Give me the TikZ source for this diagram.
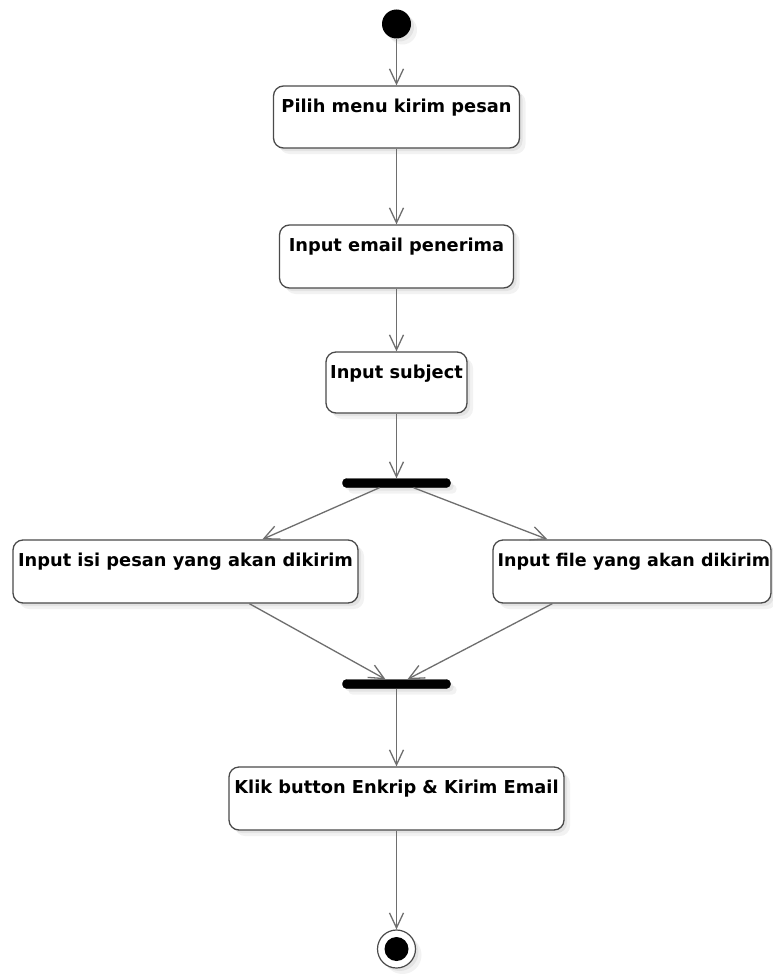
\documentclass[tikz,border=0pt]{standalone}
\usepackage{fontspec}
\setmainfont{DejaVu Sans}
\usetikzlibrary{arrows.meta,shadows,calc}
\definecolor{edgegray}{HTML}{6E6E6E}
\definecolor{boxgray}{HTML}{4A4A4A}
\tikzset{
  softshadow/.style={
    drop shadow={shadow xshift=3pt,shadow yshift=-3pt,fill=black,opacity=.06},
    drop shadow={shadow xshift=6pt,shadow yshift=-6pt,fill=black,opacity=.05}},
  actbox/.style={draw=boxgray,line width=1.3pt,rounded corners=10pt,fill=white,
    inner sep=0pt,softshadow},
  acttext/.style={font=\bfseries\fontsize{17.8}{20}\selectfont,inner sep=0pt,anchor=base},
  bar/.style={fill=black,draw=black,rounded corners=4pt,inner sep=0pt,minimum height=9pt,
    minimum width=108pt,softshadow},
  flow/.style={draw=edgegray,line width=1.3pt,-{Straight Barb[length=15pt,width=14pt,line width=1.3pt]}},
}
\begin{document}
\begin{tikzpicture}[x=1pt,y=-1pt]
\useasboundingbox (0,0) rectangle (773,974);
\fill[white] (0,0) rectangle (773,974);
% start
\node[circle,fill=black,minimum size=29pt,inner sep=0pt,softshadow] (start) at (396.5,24) {};
% boxes
\node[actbox,minimum width=246pt,minimum height=62pt] (b1) at (396.5,117) {};
\node[acttext] (t1) at ($(b1.north)+(0,27)$) {Pilih menu kirim pesan};
\node[actbox,minimum width=234pt,minimum height=63pt] (b2) at (396.5,256.5) {};
\node[acttext] (t2) at ($(b2.north)+(0,27)$) {Input email penerima};
\node[actbox,minimum width=141pt,minimum height=61pt] (b3) at (396.5,382.5) {};
\node[acttext] (t3) at ($(b3.north)+(0,27)$) {Input subject};
\node[bar] (fork) at (396.5,483) {};
\node[actbox,minimum width=345pt,minimum height=63pt] (b4) at (185.5,571.5) {};
\node[acttext] (t4) at ($(b4.north)+(0,27)$) {Input isi pesan yang akan dikirim};
\node[actbox,minimum width=278pt,minimum height=63pt] (b5) at (632,571.5) {};
\node[acttext,anchor=base west,font=\bfseries\fontsize{17.5}{20}\selectfont] (t5) at ($(b5.north west)+(5,27)$) {Input file yang akan dikirim};
\node[bar] (join) at (396.5,684) {};
\node[actbox,minimum width=335pt,minimum height=63pt] (b6) at (396.5,798.5) {};
\node[acttext] (t6) at ($(b6.north)+(0,27)$) {Klik button Enkrip \& Kirim Email};
% end
\node[circle,draw=boxgray,line width=1.2pt,fill=white,minimum size=38pt,inner sep=0pt,softshadow] (endo) at (396.5,949) {};
\node[circle,fill=black,minimum size=24pt,inner sep=0pt] (endi) at (396.5,949) {};
% connectors
\draw[flow] (start.south) -- (b1.north);
\draw[flow] (b1.south) -- (b2.north);
\draw[flow] (b2.south) -- (b3.north);
\draw[flow] (b3.south) -- (fork.north);
\draw[flow] ($(fork.south)+(-17,0)$) -- ($(b4.north west)+(250,0)$);
\draw[flow] ($(fork.south)+(17,0)$) -- ($(b5.north west)+(55,0)$);
\draw[flow] ($(b4.south west)+(237,0)$) -- ($(join.north)+(-11,0)$);
\draw[flow] ($(b5.south west)+(60,0)$) -- ($(join.north)+(11,0)$);
\draw[flow] (join.south) -- (b6.north);
\draw[flow] (b6.south) -- (endo.north);
\end{tikzpicture}
\end{document}
